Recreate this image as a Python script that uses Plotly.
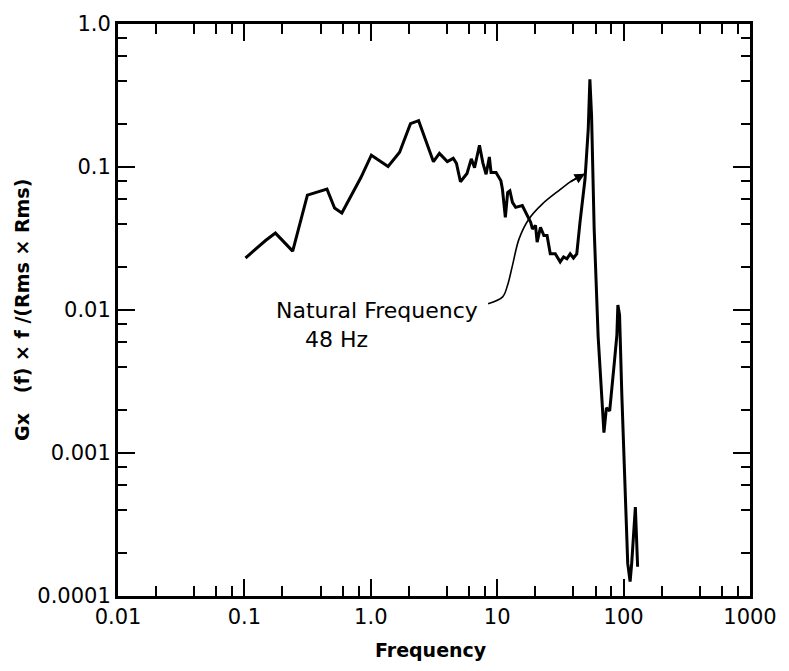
import plotly.graph_objects as go

# ---- data ----
freq = [0.102, 0.147, 0.176, 0.241, 0.315, 0.450, 0.517, 0.590, 0.835, 1.01,
        1.37, 1.69, 2.06, 2.39, 3.13, 3.49, 4.03, 4.49, 4.76, 5.12,
        5.77, 6.24, 6.62, 7.24, 7.70, 8.17, 8.67, 8.94, 9.79, 10.7,
        11.0, 11.6, 12.1, 12.6, 13.2, 14.0, 15.8, 16.8, 18.4, 19.0,
        20.1, 20.7, 22.0, 23.4, 24.8, 26.3, 28.8, 31.5, 33.5, 35.6,
        37.8, 40.1, 42.6, 45.2, 49.5, 52.5, 54.1, 55.8, 58.5, 62.9,
        67.8, 69.9, 73.1, 77.6, 84.9, 88.5, 90.1, 92.9, 96.8, 101.6,
        107.8, 112.6, 115.9, 123.9, 129.1]
psd = [0.0231, 0.0306, 0.0345, 0.0258, 0.0636, 0.0700, 0.0516, 0.0477, 0.0844, 0.121,
       0.101, 0.127, 0.201, 0.211, 0.109, 0.1245, 0.109, 0.115, 0.106, 0.0788,
       0.090, 0.114, 0.099, 0.142, 0.107, 0.089, 0.1175, 0.0914, 0.0914, 0.080,
       0.070, 0.0445, 0.0664, 0.0682, 0.0566, 0.0522, 0.0537, 0.0482, 0.0411, 0.0369,
       0.039, 0.0298, 0.0379, 0.0332, 0.0332, 0.0247, 0.0247, 0.0217, 0.0235, 0.0228,
       0.0247, 0.0231, 0.0247, 0.0411, 0.0821, 0.183, 0.411, 0.228, 0.0369, 0.0065,
       0.0023, 0.00139, 0.00207, 0.00197, 0.00449, 0.0067, 0.01083, 0.00923, 0.00257, 0.000793,
       0.000169, 0.000126, 0.000169, 0.000418, 0.00016]

x_tickvals = [0.01, 0.1, 1, 10, 100, 1000]
x_ticktext = ["0.01", "0.1", "1.0", "10", "100", "1000"]
y_tickvals = [0.0001, 0.001, 0.01, 0.1, 1]
y_ticktext = ["0.0001", "0.001", "0.01", "0.1", "1.0"]

x_minor = [m * 10 ** e for e in range(-2, 3) for m in (2, 4, 6, 8)]
y_minor = [m * 10 ** e for e in range(-4, 0) for m in (2, 4, 6, 8)]

# annotation leader curve (paper coordinates)
lead_x = [0.5856, 0.6086, 0.6164, 0.6242, 0.6346, 0.6502, 0.6712, 0.6971, 0.7181, 0.7389]
lead_y = [0.5109, 0.5230, 0.5434, 0.5781, 0.6243, 0.6591, 0.6851, 0.7084, 0.7258, 0.7384]

FONT = "DejaVu Sans"

fig = go.Figure()
fig.add_trace(go.Scatter(x=freq, y=psd, mode="lines",
                         line=dict(color="black", width=3), showlegend=False,
                         hoverinfo="skip"))
fig.add_trace(go.Scatter(x=lead_x, y=lead_y, mode="lines", xaxis="x2", yaxis="y2",
                         line=dict(color="black", width=1.6, shape="spline"),
                         showlegend=False, hoverinfo="skip"))

axis_common = dict(
    showgrid=False, zeroline=False, showline=True, linecolor="black", linewidth=3,
    mirror="allticks", ticks="inside", ticklen=17, tickwidth=2, tickcolor="black",
    tickfont=dict(family=FONT, size=21, color="black"),
)

fig.update_layout(
    width=789, height=671,
    margin=dict(l=118, r=32, t=20, b=75),
    paper_bgcolor="white", plot_bgcolor="white",
    xaxis=dict(type="log", range=[-2, 3], tickmode="array",
               tickvals=x_tickvals, ticktext=x_ticktext,
               minor=dict(tickmode="array", tickvals=x_minor, ticks="inside",
                          ticklen=10, tickwidth=2, tickcolor="black"),
               **axis_common),
    yaxis=dict(type="log", range=[-4, 0], tickmode="array",
               tickvals=y_tickvals, ticktext=y_ticktext,
               minor=dict(tickmode="array", tickvals=y_minor, ticks="inside",
                          ticklen=9, tickwidth=2, tickcolor="black"),
               **axis_common),
    xaxis2=dict(range=[0, 1], overlaying="x", anchor="y2", visible=False),
    yaxis2=dict(range=[0, 1], overlaying="y", anchor="x2", visible=False),
    annotations=[
        dict(text="Frequency", xref="paper", yref="paper", x=0.495, y=-0.095,
             xanchor="center", yanchor="middle", showarrow=False,
             font=dict(family=FONT, size=19, color="black", weight="bold")),
        dict(text="Gx   (f) × f /(Rms × Rms)", xref="paper", yref="paper",
             x=-0.152, y=0.5, textangle=-90, xanchor="center", yanchor="middle",
             showarrow=False,
             font=dict(family=FONT, size=19, color="black", weight="bold")),
        dict(text="Natural Frequency", xref="paper", yref="paper", x=0.2463, y=0.499,
             xanchor="left", yanchor="middle", showarrow=False,
             font=dict(family=FONT, size=22, color="black")),
        dict(text="48 Hz", xref="paper", yref="paper", x=0.2932, y=0.448,
             xanchor="left", yanchor="middle", showarrow=False,
             font=dict(family=FONT, size=22, color="black")),
        dict(text="", xref="paper", yref="paper", x=lead_x[-1], y=lead_y[-1],
             ax=-16, ay=9, showarrow=True, arrowhead=2, arrowsize=1.3,
             arrowwidth=1.6, arrowcolor="black"),
    ],
)

fig.write_html("out.html")
